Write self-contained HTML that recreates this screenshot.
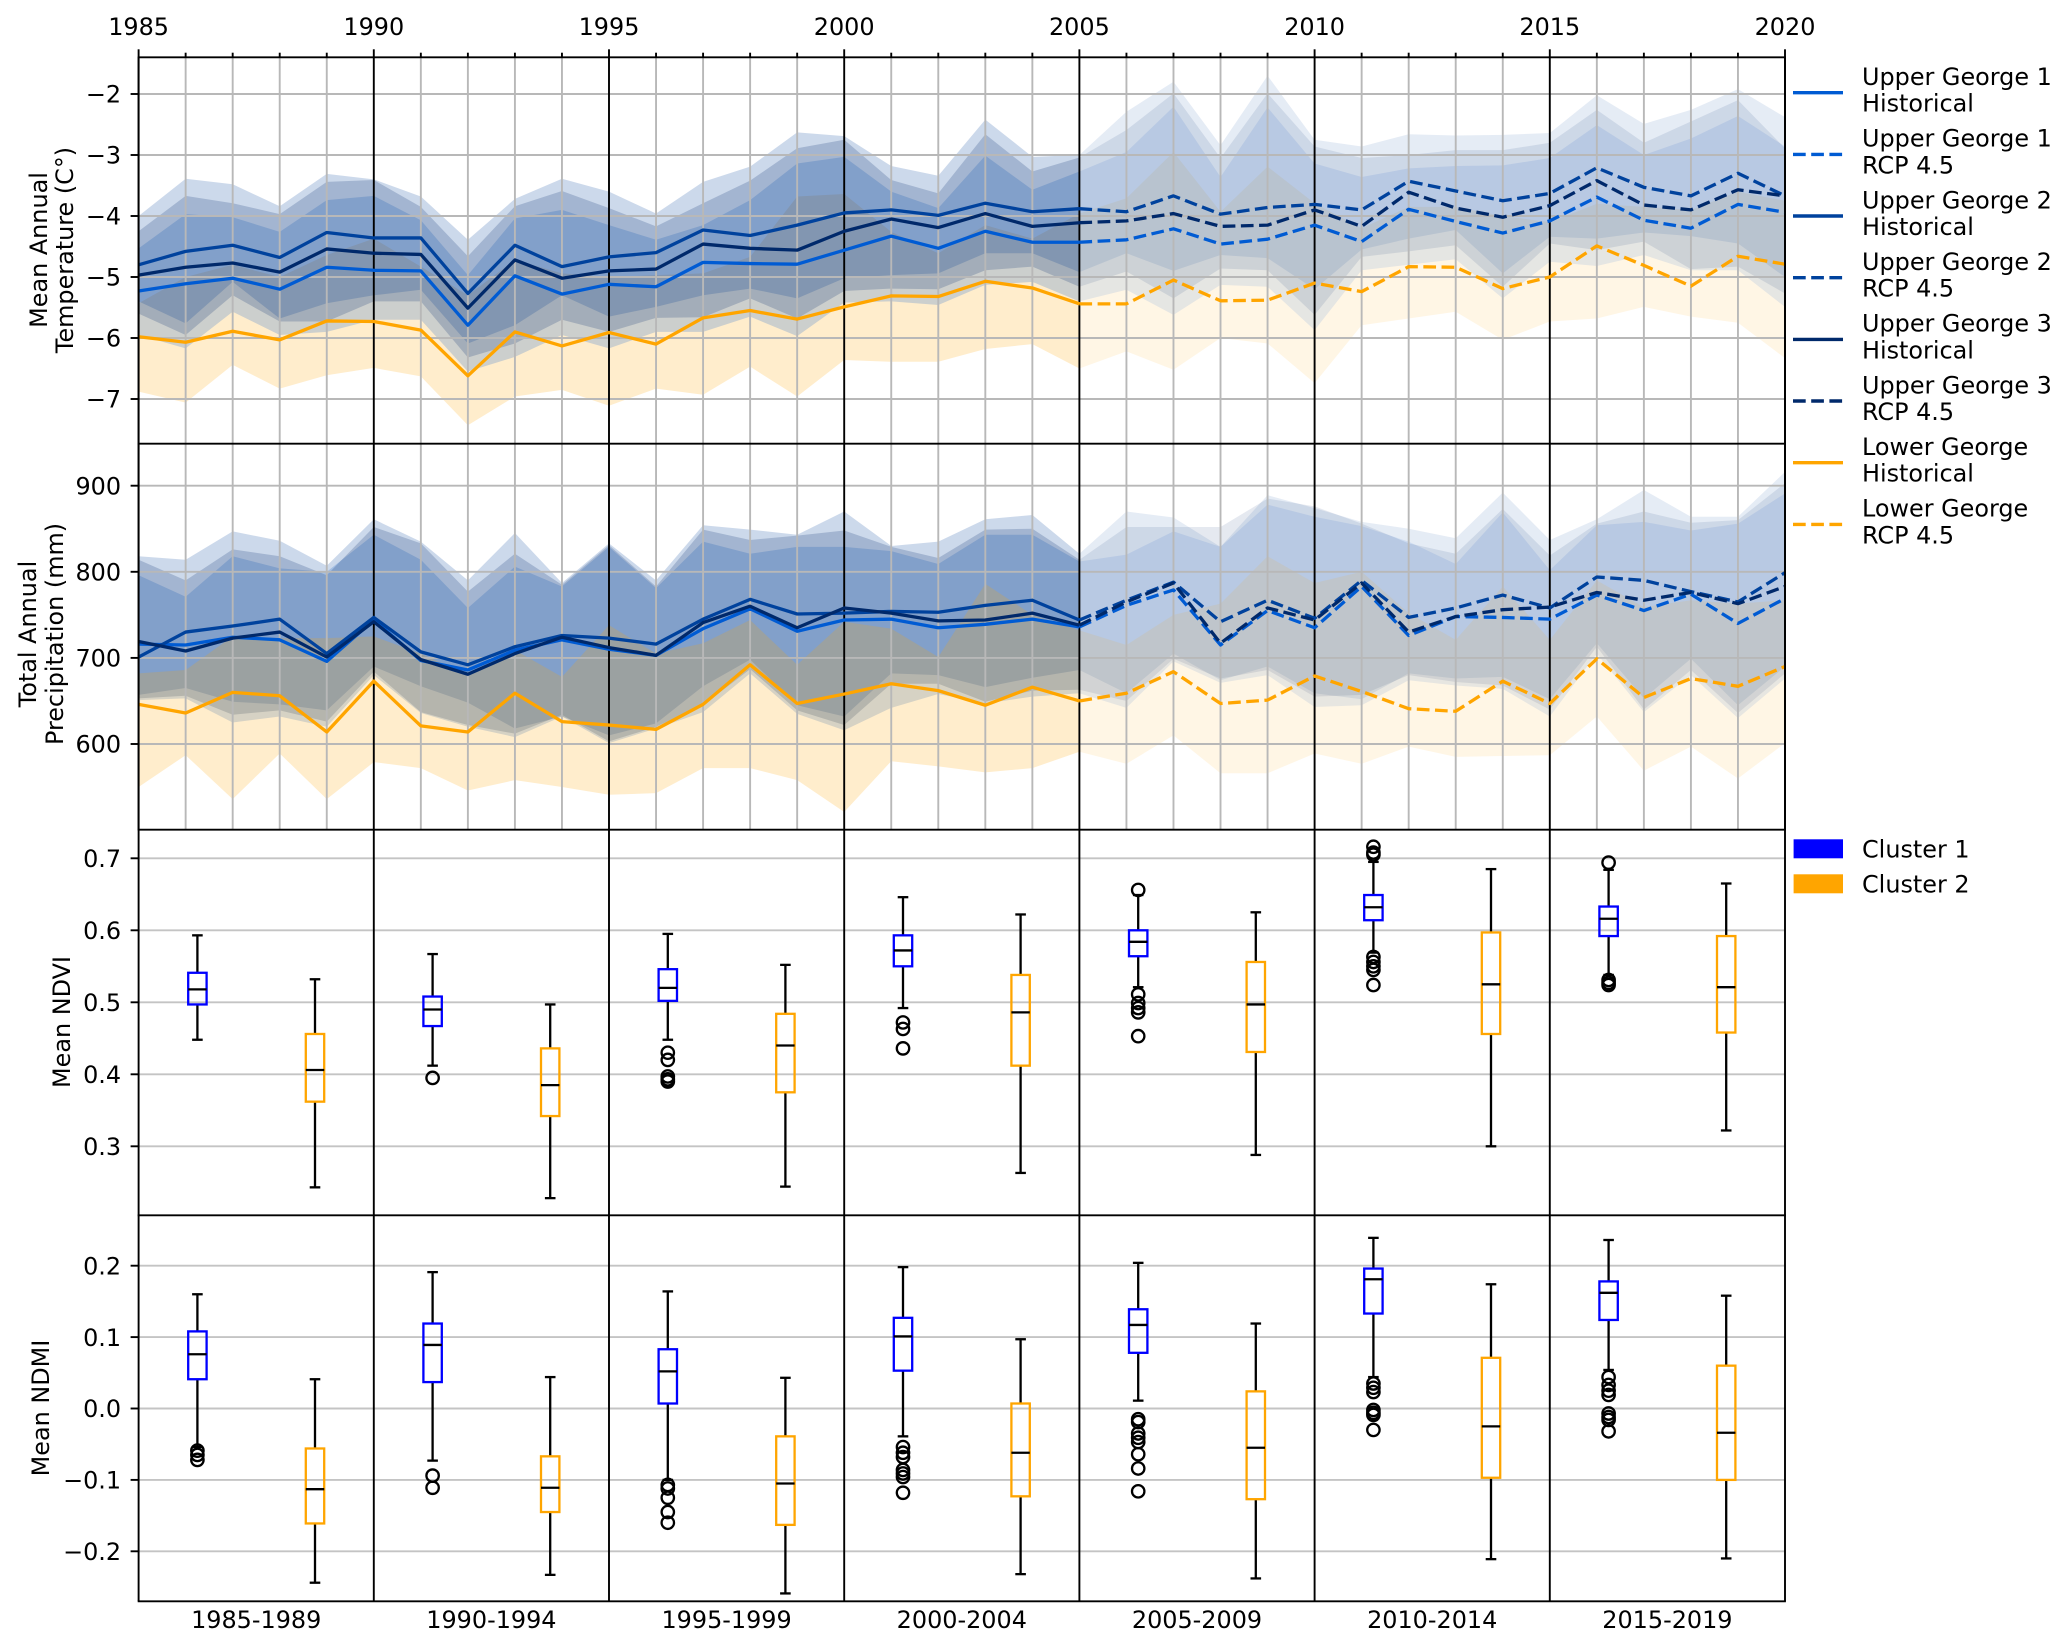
<!DOCTYPE html>
<html lang="en">
<head>
<meta charset="utf-8">
<title>George climate and vegetation chart</title>
<style>
html,body{margin:0;padding:0;background:#fff;}
svg{display:block;}
text{font-family:"DejaVu Sans","Liberation Sans",sans-serif;font-size:23.9px;fill:#000;}
</style>
</head>
<body>
<svg id="chart" xmlns="http://www.w3.org/2000/svg" width="2067" height="1647" viewBox="0 0 2067 1647">
<rect x="0" y="0" width="2067" height="1647" fill="#ffffff"/>
<g id="plots"></g>
<g>
<text transform="translate(47,250) rotate(-90)" text-anchor="middle">Mean Annual</text>
<text transform="translate(73,250) rotate(-90)" text-anchor="middle">Temperature (C°)</text>
</g>
<g>
<text transform="translate(36,634) rotate(-90)" text-anchor="middle">Total Annual</text>
<text transform="translate(63,634) rotate(-90)" text-anchor="middle">Precipitation (mm)</text>
</g>
<text transform="translate(70,1022) rotate(-90)" text-anchor="middle">Mean NDVI</text>
<text transform="translate(49,1408) rotate(-90)" text-anchor="middle">Mean NDMI</text>

<g>
<g><line x1="1793" x2="1843" y1="92.7" y2="92.7" stroke="#005bd3" stroke-width="3.4"/><text x="1862" y="85">Upper George 1</text><text x="1862" y="111.7">Historical</text></g>
<g><line x1="1793" x2="1843" y1="154.4" y2="154.4" stroke="#005bd3" stroke-width="3.4" stroke-dasharray="12.7 5.5"/><text x="1862" y="146.7">Upper George 1</text><text x="1862" y="173.4">RCP 4.5</text></g>
<g><line x1="1793" x2="1843" y1="216" y2="216" stroke="#00429d" stroke-width="3.4"/><text x="1862" y="208.3">Upper George 2</text><text x="1862" y="235">Historical</text></g>
<g><line x1="1793" x2="1843" y1="277.7" y2="277.7" stroke="#00429d" stroke-width="3.4" stroke-dasharray="12.7 5.5"/><text x="1862" y="270">Upper George 2</text><text x="1862" y="296.7">RCP 4.5</text></g>
<g><line x1="1793" x2="1843" y1="339.4" y2="339.4" stroke="#00296b" stroke-width="3.4"/><text x="1862" y="331.7">Upper George 3</text><text x="1862" y="358.4">Historical</text></g>
<g><line x1="1793" x2="1843" y1="401" y2="401" stroke="#00296b" stroke-width="3.4" stroke-dasharray="12.7 5.5"/><text x="1862" y="393.3">Upper George 3</text><text x="1862" y="420">RCP 4.5</text></g>
<g><line x1="1793" x2="1843" y1="462.7" y2="462.7" stroke="#ffa500" stroke-width="3.4"/><text x="1862" y="455">Lower George</text><text x="1862" y="481.7">Historical</text></g>
<g><line x1="1793" x2="1843" y1="524.4" y2="524.4" stroke="#ffa500" stroke-width="3.4" stroke-dasharray="12.7 5.5"/><text x="1862" y="516.7">Lower George</text><text x="1862" y="543.4">RCP 4.5</text></g>
</g>
<g>
<g><rect x="1793.6" y="839.3" width="49.4" height="19" fill="#0000ff"/><text x="1862" y="857.3">Cluster 1</text></g>
<g><rect x="1793.6" y="874.3" width="49.4" height="19" fill="#ffa500"/><text x="1862" y="892.3">Cluster 2</text></g>
</g>
</svg>
<script>
// ---- shared categories and ticks ----
const years = [1985,1986,1987,1988,1989,1990,1991,1992,1993,1994,1995,1996,1997,1998,1999,2000,2001,2002,2003,2004,2005,2006,2007,2008,2009,2010,2011,2012,2013,2014,2015,2016,2017,2018,2019,2020];
const periodLabels = ["1985-1989","1990-1994","1995-1999","2000-2004","2005-2009","2010-2014","2015-2019"];
const tempTicks = [-2,-3,-4,-5,-6,-7];
const precipTicks = [900,800,700,600];
const ndviTicks = [0.7,0.6,0.5,0.4,0.3];
const ndmiTicks = [0.2,0.1,0.0,-0.1,-0.2];

// ---- temperature series ----
const tempUG1 = [-5.23,-5.11,-5.02,-5.20,-4.84,-4.89,-4.90,-5.79,-4.98,-5.28,-5.12,-5.16,-4.76,-4.78,-4.79,-4.56,-4.33,-4.53,-4.25,-4.43,-4.43,-4.39,-4.21,-4.46,-4.38,-4.15,-4.42,-3.89,-4.09,-4.28,-4.08,-3.69,-4.07,-4.20,-3.81,-3.94];
const tempUG2 = [-4.80,-4.58,-4.48,-4.68,-4.27,-4.36,-4.36,-5.27,-4.48,-4.83,-4.67,-4.60,-4.23,-4.32,-4.15,-3.95,-3.90,-3.99,-3.79,-3.93,-3.88,-3.93,-3.67,-3.97,-3.86,-3.81,-3.90,-3.43,-3.59,-3.75,-3.63,-3.21,-3.53,-3.67,-3.30,-3.67];
const tempUG3 = [-4.97,-4.84,-4.77,-4.92,-4.54,-4.61,-4.63,-5.51,-4.72,-5.02,-4.90,-4.87,-4.46,-4.53,-4.56,-4.25,-4.05,-4.19,-3.96,-4.17,-4.11,-4.08,-3.96,-4.17,-4.15,-3.90,-4.17,-3.61,-3.87,-4.02,-3.83,-3.42,-3.82,-3.90,-3.57,-3.67];
const tempLower = [-5.98,-6.07,-5.89,-6.03,-5.72,-5.73,-5.87,-6.62,-5.90,-6.13,-5.91,-6.10,-5.67,-5.55,-5.69,-5.49,-5.31,-5.32,-5.07,-5.18,-5.44,-5.44,-5.05,-5.39,-5.38,-5.10,-5.24,-4.83,-4.84,-5.19,-5.00,-4.49,-4.81,-5.15,-4.66,-4.79];
const tempUG2Hi = [-4.0,-3.39,-3.48,-3.84,-3.31,-3.40,-3.68,-4.39,-3.72,-3.39,-3.60,-3.96,-3.44,-3.19,-2.63,-2.69,-3.18,-3.34,-2.42,-3.03,-3.0,-2.29,-1.80,-2.84,-1.70,-2.75,-2.86,-2.66,-2.68,-2.67,-2.64,-2.02,-2.49,-2.26,-1.92,-2.38];
const tempUG3Hi = [-4.25,-3.67,-3.79,-3.97,-3.44,-3.41,-3.85,-4.66,-3.84,-3.59,-3.87,-4.17,-3.79,-3.42,-2.89,-2.75,-3.41,-3.63,-2.66,-3.27,-3.04,-2.59,-1.99,-3.05,-1.99,-2.86,-3.05,-3.0,-2.92,-2.92,-2.80,-2.26,-2.80,-2.45,-2.10,-2.89];
const tempUG1Hi = [-4.53,-3.97,-4.02,-4.26,-3.74,-3.67,-4.07,-4.97,-4.04,-3.90,-4.15,-4.39,-4.15,-3.74,-3.14,-3.03,-3.60,-3.87,-3.01,-3.57,-3.27,-2.95,-2.21,-3.36,-2.22,-3.14,-3.36,-3.22,-3.18,-3.17,-3.05,-2.51,-3.0,-2.73,-2.36,-2.86];
const tempUG2Lo = [-5.40,-5.76,-5.08,-5.68,-5.43,-5.30,-5.21,-6.09,-5.79,-5.30,-5.65,-5.49,-5.30,-5.19,-5.35,-5.02,-4.97,-4.94,-4.61,-4.61,-4.92,-4.61,-4.90,-4.64,-4.69,-5.2,-4.55,-4.37,-4.23,-4.94,-4.34,-4.37,-4.27,-4.33,-4.45,-5.0];
const tempUG3Lo = [-5.6,-5.95,-5.30,-5.73,-5.73,-5.40,-5.40,-6.32,-6.09,-5.70,-5.90,-5.67,-5.66,-5.35,-5.68,-5.23,-5.19,-5.20,-4.89,-4.83,-5.16,-4.91,-5.35,-4.86,-4.89,-5.62,-4.67,-4.58,-4.48,-5.16,-4.45,-4.56,-4.42,-4.87,-4.83,-5.27];
const tempUG1Lo = [-5.95,-6.17,-5.57,-5.95,-5.90,-5.70,-5.70,-6.55,-6.31,-5.95,-6.17,-5.90,-5.90,-5.65,-5.97,-5.42,-5.40,-5.46,-5.13,-5.08,-5.40,-5.21,-5.62,-5.13,-5.16,-5.87,-4.89,-4.80,-4.71,-5.35,-4.75,-4.82,-4.64,-4.89,-4.89,-5.49];
const tempLowerHi = [-5.43,-5.0,-4.80,-5.0,-4.64,-4.37,-4.83,-5.3,-4.72,-4.94,-5.0,-4.97,-4.94,-4.67,-3.68,-3.64,-4.26,-4.61,-4.15,-4.37,-3.96,-3.71,-2.95,-3.93,-3.19,-3.79,-4.2,-3.85,-3.85,-4.0,-4.1,-3.8,-3.85,-3.9,-3.6,-3.75];
const tempLowerLo = [-6.88,-7.06,-6.44,-6.83,-6.61,-6.49,-6.63,-7.43,-6.96,-6.85,-7.11,-6.83,-6.93,-6.47,-6.96,-6.36,-6.39,-6.39,-6.18,-6.10,-6.5,-6.22,-6.52,-6.0,-6.09,-6.74,-5.79,-5.68,-5.57,-6.03,-5.73,-5.68,-5.49,-5.65,-5.75,-6.33];

// ---- precipitation series ----
const precipUG1 = [716,715,724,721,696,744,697,686,709,721,710,703,734,757,731,744,745,735,739,745,736,761,779,715,755,735,783,726,748,747,745,773,755,774,740,769];
const precipUG2 = [701,730,737,745,705,747,707,692,713,726,723,716,745,768,751,752,754,753,761,767,744,767,788,742,767,746,790,747,758,773,758,794,790,777,765,799];
const precipUG3 = [719,708,723,730,701,742,698,681,705,724,712,703,741,760,735,758,752,743,744,752,738,765,787,717,758,744,787,730,748,756,759,776,767,776,763,783];
const precipLower = [646,636,660,656,614,673,621,614,659,626,622,617,646,692,647,658,670,662,645,666,650,659,684,647,651,679,661,641,638,673,647,699,654,676,667,690];
const precipUG2Hi = [818,814,847,836,807,861,835,790,845,787,833,790,854,849,843,870,830,835,861,866,821,870,863,829,889,874,858,850,839,892,837,861,895,864,864,916];
const precipUG3Hi = [814,790,826,818,796,852,833,777,821,785,831,783,849,837,842,848,829,816,849,850,814,852,852,852,885,876,856,833,821,873,819,856,870,857,860,903];
const precipUG1Hi = [796,771,818,804,800,843,814,758,806,783,829,781,835,821,829,829,824,809,843,843,812,820,847,829,878,864,853,835,809,869,802,854,858,848,856,891];
const precipUG2Lo = [657,665,649,646,639,690,667,648,618,632,610,624,667,698,645,632,682,680,666,677,686,659,705,674,690,659,652,682,676,678,652,717,653,699,645,690];
const precipUG3Lo = [653,656,634,639,626,684,637,622,612,634,603,620,645,687,639,622,670,670,649,662,663,650,699,676,686,655,657,680,672,668,640,713,640,686,636,682];
const precipUG1Lo = [651,653,625,632,620,680,636,620,608,632,601,618,637,682,635,616,642,658,647,655,659,642,696,671,680,643,645,674,668,664,632,705,637,680,630,676];
const precipLowerHi = [682,686,725,723,723,725,705,680,709,678,738,705,717,744,692,742,734,701,786,750,732,715,750,763,818,787,800,752,721,783,721,790,759,767,763,767];
const precipLowerLo = [550,587,536,589,536,579,572,546,558,550,541,543,572,572,558,521,580,574,567,572,591,577,610,566,566,589,577,597,585,586,587,632,569,597,560,601];

// ---- box stats: [whisker high, q3, median, q1, whisker low] ----
const ndviCluster1 = [[0.593,0.541,0.518,0.497,0.448],[0.567,0.508,0.490,0.467,0.412],[0.595,0.546,0.520,0.502,0.448],[0.646,0.593,0.572,0.550,0.492],[0.649,0.600,0.584,0.564,0.521],[0.695,0.649,0.632,0.614,0.569],[0.684,0.633,0.616,0.592,0.538]];
const ndviCluster2 = [[0.532,0.456,0.406,0.362,0.243],[0.497,0.436,0.385,0.342,0.228],[0.552,0.484,0.440,0.375,0.244],[0.622,0.538,0.486,0.412,0.263],[0.625,0.556,0.497,0.431,0.288],[0.685,0.597,0.525,0.456,0.300],[0.665,0.592,0.521,0.458,0.322]];
const ndviFliers = [[],[0.395],[0.43,0.42,0.397,0.393,0.39],[0.472,0.463,0.436],[0.656,0.511,0.499,0.492,0.486,0.453],[0.716,0.708,0.705,0.563,0.556,0.55,0.545,0.524],[0.694,0.531,0.527,0.524]];
const ndmiCluster1 = [[0.160,0.108,0.076,0.041,-0.054],[0.191,0.119,0.089,0.037,-0.073],[0.164,0.083,0.052,0.007,-0.100],[0.198,0.127,0.101,0.053,-0.039],[0.204,0.139,0.117,0.078,0.011],[0.239,0.196,0.181,0.133,0.044],[0.236,0.178,0.162,0.124,0.054]];
const ndmiCluster2 = [[0.041,-0.056,-0.113,-0.161,-0.244],[0.044,-0.067,-0.111,-0.145,-0.233],[0.043,-0.039,-0.105,-0.163,-0.259],[0.097,0.007,-0.062,-0.123,-0.232],[0.119,0.024,-0.055,-0.127,-0.238],[0.174,0.071,-0.025,-0.097,-0.211],[0.158,0.060,-0.034,-0.100,-0.210]];
const ndmiFliers = [[-0.059,-0.065,-0.072],[-0.094,-0.111],[-0.107,-0.112,-0.125,-0.145,-0.160],[-0.054,-0.062,-0.068,-0.086,-0.091,-0.096,-0.118],[-0.015,-0.019,-0.035,-0.041,-0.047,-0.064,-0.084,-0.116],[0.035,0.029,0.023,-0.002,-0.006,-0.009,-0.030],[0.044,0.033,0.025,0.019,-0.007,-0.012,-0.016,-0.032]];

// ---- layout and axis functions ----
const NS = "http://www.w3.org/2000/svg";
const plots = document.getElementById("plots");
const LEFT = 138.6, RIGHT = 1785;
const PANEL_Y = [57.3, 443.7, 829.7, 1215.3, 1601.3];
const xYear = y => LEFT + (y - 1985) * (RIGHT - LEFT) / 35;
const yTemp = v => 94 + (-2 - v) * 61;
const yPrecip = v => 485.7 + (900 - v) * 0.861;
const yNdvi = v => 858.3 + (0.7 - v) * 720;
const yNdmi = v => 1265.7 + (0.2 - v) * 714;
const GRID = "#b8b8b8";

function mk(tag, attrs, parent) {
  const el = document.createElementNS(NS, tag);
  for (const k in attrs) el.setAttribute(k, attrs[k]);
  (parent || plots).appendChild(el);
  return el;
}
function hline(y, x1, x2, stroke, w, name) {
  const el = mk("line", {x1: x1, x2: x2, y1: y, y2: y, stroke: stroke, "stroke-width": w});
  
  
  return el;
}
function vline(x, y1, y2, stroke, w, name) {
  const el = mk("line", {x1: x, x2: x, y1: y1, y2: y2, stroke: stroke, "stroke-width": w});
  
  
  return el;
}
function label(str, x, y, anchor, name) {
  const el = mk("text", {x: x, y: y, "text-anchor": anchor});
  el.textContent = str;
  
  
  return el;
}
const fmt = v => (v < 0 ? "\u2212" : "") + Math.abs(v).toString();
const fmt1 = v => (v < 0 ? "\u2212" : "") + Math.abs(v).toFixed(1);

function band(hi, lo, from, to, color, opacity, yf, name) {
  let pts = [];
  for (let i = from; i <= to; i++) pts.push(xYear(years[i]).toFixed(2) + "," + yf(hi[i]).toFixed(2));
  for (let i = to; i >= from; i--) pts.push(xYear(years[i]).toFixed(2) + "," + yf(lo[i]).toFixed(2));
  const el = mk("polygon", {points: pts.join(" "), fill: color, "fill-opacity": opacity});
  
  
}
function series(vals, from, to, color, dashed, yf, name) {
  let pts = [];
  for (let i = from; i <= to; i++) pts.push(xYear(years[i]).toFixed(2) + "," + yf(vals[i]).toFixed(2));
  const el = mk("polyline", {points: pts.join(" "), fill: "none", stroke: color, "stroke-width": 3.3, "stroke-linejoin": "round"});
  if (dashed) el.setAttribute("stroke-dasharray", "12.7 5.5");
  
  
}

const SPLIT = years.indexOf(2005);
const LAST = years.length - 1;
const C1 = "#005bd3", C2 = "#00429d", C3 = "#00296b", CL = "#ffa500";

function linePanel(key, yf, ticks, top, bottom, data, bandOrder) {
  bandOrder.forEach(idx => {
    const d = data[idx];
    band(d.hi, d.lo, 0, SPLIT, d.color, 0.2, yf, key + "-band-historical-" + d.id);
    band(d.hi, d.lo, SPLIT, LAST, d.color, 0.1, yf, key + "-band-rcp-" + d.id);
  });
  years.forEach(y => {
    if ((y - 1985) % 5 !== 0) vline(xYear(y), top, bottom, GRID, 1.9, key + "-year-gridline");
  });
  ticks.forEach(t => hline(yf(t), LEFT, RIGHT, GRID, 1.9, key + "-horizontal-gridline"));
  years.forEach(y => {
    if ((y - 1985) % 5 === 0) vline(xYear(y), top, bottom, "#000", 1.9, key + "-period-divider");
  });
  data.forEach(d => {
    series(d.line, 0, SPLIT, d.color, false, yf, key + "-line-historical-" + d.id);
    series(d.line, SPLIT, LAST, d.color, true, yf, key + "-line-rcp-" + d.id);
  });
}

linePanel("temperature", yTemp, tempTicks, PANEL_Y[0], PANEL_Y[1], [
  {id: "upper-george-1", color: C1, line: tempUG1, hi: tempUG1Hi, lo: tempUG1Lo},
  {id: "upper-george-2", color: C2, line: tempUG2, hi: tempUG2Hi, lo: tempUG2Lo},
  {id: "upper-george-3", color: C3, line: tempUG3, hi: tempUG3Hi, lo: tempUG3Lo},
  {id: "lower-george", color: CL, line: tempLower, hi: tempLowerHi, lo: tempLowerLo}
], [3, 0, 1, 2]);
linePanel("precipitation", yPrecip, precipTicks, PANEL_Y[1], PANEL_Y[2], [
  {id: "upper-george-1", color: C1, line: precipUG1, hi: precipUG1Hi, lo: precipUG1Lo},
  {id: "upper-george-2", color: C2, line: precipUG2, hi: precipUG2Hi, lo: precipUG2Lo},
  {id: "upper-george-3", color: C3, line: precipUG3, hi: precipUG3Hi, lo: precipUG3Lo},
  {id: "lower-george", color: CL, line: precipLower, hi: precipLowerHi, lo: precipLowerLo}
], [0, 1, 2, 3]);

// ---- box panels ----
const CAT_W = (RIGHT - LEFT) / periodLabels.length;
function drawBox(stats, cx, color, yf, name) {
  const g = mk("g", {});
  
  
  const [wh, q3, med, q1, wl] = stats;
  const common = {stroke: "#000", "stroke-width": 2.3};
  mk("line", Object.assign({x1: cx, x2: cx, y1: yf(wh), y2: yf(q3)}, common), g);
  mk("line", Object.assign({x1: cx, x2: cx, y1: yf(q1), y2: yf(wl)}, common), g);
  mk("line", Object.assign({x1: cx - 5.3, x2: cx + 5.3, y1: yf(wh), y2: yf(wh)}, common), g);
  mk("line", Object.assign({x1: cx - 5.3, x2: cx + 5.3, y1: yf(wl), y2: yf(wl)}, common), g);
  mk("rect", {x: cx - 9.2, y: yf(q3), width: 18.4, height: yf(q1) - yf(q3), fill: "none", stroke: color, "stroke-width": 2.3}, g);
  mk("line", Object.assign({x1: cx - 9.2, x2: cx + 9.2, y1: yf(med), y2: yf(med)}, common), g);
}
function boxPanel(key, yf, ticks, top, bottom, c1, c2, fliers) {
  ticks.forEach(t => hline(yf(t), LEFT, RIGHT, "#c4c4c4", 1.9, key + "-horizontal-gridline"));
  for (let i = 1; i < periodLabels.length; i++) {
    vline(LEFT + i * CAT_W, top, bottom, "#000", 1.9, key + "-period-divider");
  }
  periodLabels.forEach((p, i) => {
    const center = LEFT + (i + 0.5) * CAT_W;
    const x1 = center - CAT_W * 0.25, x2 = center + CAT_W * 0.25;
    drawBox(c1[i], x1, "#0000ff", yf, key + "-box-cluster-1-" + p);
    drawBox(c2[i], x2, "#ffa500", yf, key + "-box-cluster-2-" + p);
    fliers[i].forEach(v => {
      const c = mk("circle", {cx: x1, cy: yf(v), r: 6.2, fill: "none", stroke: "#000", "stroke-width": 2.3});
      
      
    });
  });
}
boxPanel("ndvi", yNdvi, ndviTicks, PANEL_Y[2], PANEL_Y[3], ndviCluster1, ndviCluster2, ndviFliers);
boxPanel("ndmi", yNdmi, ndmiTicks, PANEL_Y[3], PANEL_Y[4], ndmiCluster1, ndmiCluster2, ndmiFliers);

// ---- spines ----
PANEL_Y.forEach(y => hline(y, LEFT - 0.9, RIGHT + 0.9, "#000", 1.9, "panel-border-horizontal"));
vline(LEFT, PANEL_Y[0], PANEL_Y[4], "#000", 1.9, "left-axis-line");
vline(RIGHT, PANEL_Y[0], PANEL_Y[4], "#000", 1.9, "right-axis-line");

// ---- ticks and tick labels ----
years.forEach(y => {
  const major = (y - 1985) % 5 === 0;
  const x = xYear(y);
  vline(x, PANEL_Y[0] - (major ? 8 : 4.6), PANEL_Y[0], "#000", 1.9, major ? "top-axis-major-tick" : "top-axis-minor-tick");
  if (major) label(String(y), x, 35, "middle", "top-axis-year-label");
});
function yAxis(ticks, yf, fmtFn, key) {
  ticks.forEach(t => {
    hline(yf(t), LEFT - 8, LEFT, "#000", 1.9, key + "-y-tick");
    label(fmtFn(t), LEFT - 17.5, yf(t) + 8.7, "end", key + "-y-tick-label");
  });
}
yAxis(tempTicks, yTemp, fmt, "temperature");
yAxis(precipTicks, yPrecip, fmt, "precipitation");
yAxis(ndviTicks, yNdvi, fmt1, "ndvi");
yAxis(ndmiTicks, yNdmi, fmt1, "ndmi");
periodLabels.forEach((p, i) => {
  label(p, LEFT + (i + 0.5) * CAT_W, 1628, "middle", "period-axis-label");
});
</script>
</body>
</html>
